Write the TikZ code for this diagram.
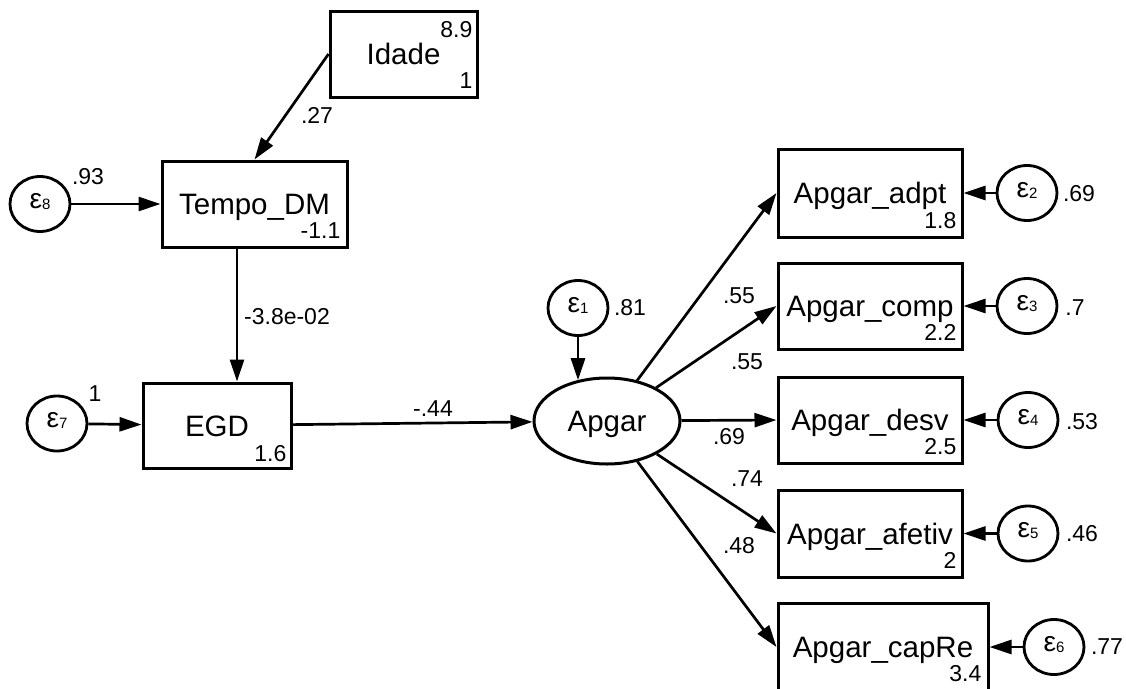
\documentclass[tikz,border=0pt]{standalone}
\usepackage{fontspec}
\setmainfont{Liberation Sans}
\usetikzlibrary{arrows.meta,shapes.geometric}
\newcommand\epsl[1]{{\fontsize{28}{28}\selectfont ε}\raisebox{-1pt}{\fontsize{15}{15}\selectfont #1}}
\begin{document}
\begin{tikzpicture}[x=1pt,y=-1pt,
  box/.style={draw,line width=3pt,inner sep=0pt,text height=21pt,text depth=0pt,font=\fontsize{29.5}{29.5}\selectfont},
  lat/.style={draw,ellipse,line width=3pt,inner sep=0pt,minimum width=146pt,minimum height=86pt,text height=21pt,text depth=0pt,font=\fontsize{29.5}{29.5}\selectfont},
  err/.style={draw,ellipse,line width=2.8pt,inner sep=0pt,minimum width=60pt,minimum height=55pt,text height=8pt,text depth=0pt},
  arr/.style={line width=2.7pt,-{Triangle[length=22pt,width=14pt]}},
  lab/.style={inner sep=0pt,font=\fontsize{23}{23}\selectfont},
  cornerlab/.style={inner sep=0pt,font=\fontsize{23}{23}\selectfont}
]
\useasboundingbox (0,0) rectangle (1126,688);
\clip (0,0) rectangle (1126,688);
\fill[white] (0,0) rectangle (1126,688);

% boxes
\node[box,minimum width=147pt,minimum height=86pt] (idade) at (403.5,54) {Idade};
\node[box,minimum width=185pt,minimum height=86pt] (tempo) at (254.5,204) {Tempo\_DM};
\node[box,minimum width=148pt,minimum height=85pt] (egd) at (217,425.5) {EGD};
\node[lat] (apgar) at (607,421) {Apgar};
\node[box,minimum width=184pt,minimum height=88pt] (adpt) at (870,193) {Apgar\_adpt};
\node[box,minimum width=184pt,minimum height=86pt] (comp) at (870,306) {Apgar\_comp};
\node[box,minimum width=184pt,minimum height=86pt] (desv) at (870,420) {Apgar\_desv};
\node[box,minimum width=184pt,minimum height=87pt] (afetiv) at (870,533.5) {Apgar\_afetiv};
\node[box,minimum width=210pt,minimum height=88pt] (capre) at (883,647) {Apgar\_capRe};

% corner numbers
\node[cornerlab,anchor=north east] (idadeA) at ([xshift=-6pt,yshift=-12pt]idade.north east) {8.9};
\node[cornerlab,anchor=south east] (idadeB) at ([xshift=-6pt,yshift=10pt]idade.south east) {1};
\node[cornerlab,anchor=south east] (tempoB) at ([xshift=-8pt,yshift=10pt]tempo.south east) {-1.1};
\node[cornerlab,anchor=south east] (egdB) at ([xshift=-6pt,yshift=8pt]egd.south east) {1.6};
\node[cornerlab,anchor=south east] (adptB) at ([xshift=-7pt,yshift=10pt]adpt.south east) {1.8};
\node[cornerlab,anchor=south east] (compB) at ([xshift=-7pt,yshift=10pt]comp.south east) {2.2};
\node[cornerlab,anchor=south east] (desvB) at ([xshift=-7pt,yshift=10pt]desv.south east) {2.5};
\node[cornerlab,anchor=south east] (afetivB) at ([xshift=-7pt,yshift=10pt]afetiv.south east) {2};
\node[cornerlab,anchor=south east] (capreB) at ([xshift=-8pt,yshift=11pt]capre.south east) {3.4};

% error terms
\node[err] (e8) at (40,204) {\epsl{8}};
\node[err] (e7) at (57,423.5) {\epsl{7}};
\node[err] (e1) at (578,308) {\epsl{1}};
\node[err] (e2) at (1027,193) {\epsl{2}};
\node[err] (e3) at (1027,306) {\epsl{3}};
\node[err] (e4) at (1028,420) {\epsl{4}};
\node[err] (e5) at (1028,533.5) {\epsl{5}};
\node[err] (e6) at (1054,647) {\epsl{6}};

% connectors
\draw[arr] (idade.west) -- (tempo.north);
\draw[arr] (e8) -- (tempo);
\draw[arr] ([xshift=-17.5pt]tempo.south) -- ([xshift=20pt]egd.north);
\draw[arr] (e7) -- (egd);
\draw[arr] (egd) -- (apgar);
\draw[arr] (e1) -- (e1 |- apgar.126);
\draw[arr] (apgar) -- (adpt.west);
\draw[arr] (apgar) -- (comp.west);
\draw[arr] (apgar) -- (desv.west);
\draw[arr] (apgar) -- (afetiv.west);
\draw[arr] (apgar) -- (capre.west);
\draw[arr] (e2) -- (adpt);
\draw[arr] (e3) -- (comp);
\draw[arr] (e4) -- (desv);
\draw[arr] (e5) -- (afetiv);
\draw[arr] (e6) -- (capre);

% labels
\node[lab] (l27) at (317,115) {.27};
\node[lab] (l93) at (88,177) {.93};
\node[lab] (l38) at (287,317) {-3.8e-02};
\node[lab] (l1) at (95,394) {1};
\node[lab] (l44) at (433,409) {-.44};
\node[lab] (l81) at (630,308) {.81};
\node[lab] (l55a) at (739,296) {.55};
\node[lab] (l55b) at (747,362) {.55};
\node[lab] (l69a) at (729,437) {.69};
\node[lab] (l74) at (747,479) {.74};
\node[lab] (l48) at (739,546) {.48};
\node[lab] (l69b) at (1079,194) {.69};
\node[lab] (l7) at (1075,308) {.7};
\node[lab] (l53) at (1082,422) {.53};
\node[lab] (l46) at (1082,534) {.46};
\node[lab] (l77) at (1107,647) {.77};
\end{tikzpicture}
\end{document}
